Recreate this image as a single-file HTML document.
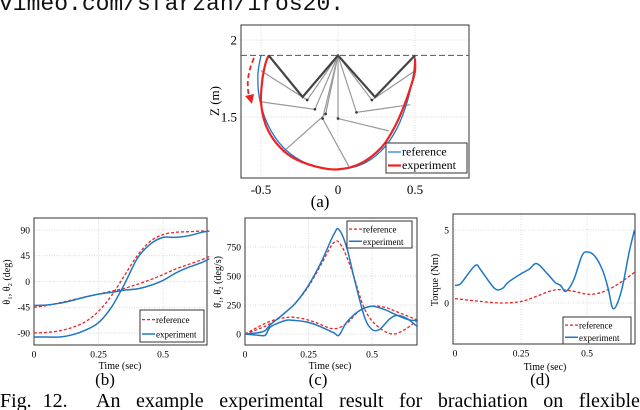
<!DOCTYPE html>
<html><head><meta charset="utf-8"><style>
html,body{margin:0;padding:0;background:#fff;}
svg{display:block;font-family:"Liberation Serif",serif;}
</style></head><body>
<svg id="fig" width="640" height="410" viewBox="0 0 640 410">
<text x="-1" y="10" font-family="Liberation Mono, monospace" font-size="23" fill="#111">vimeo.com/sfarzan/iros20.</text>
<g id="pa"></g>
<g id="pb"></g>
<g id="pc"></g>
<g id="pd"></g>
<text x="320" y="207" font-size="17" text-anchor="middle">(a)</text>
<text x="105" y="385" font-size="17" text-anchor="middle">(b)</text>
<text x="318" y="385" font-size="17" text-anchor="middle">(c)</text>
<text x="540" y="385" font-size="17" text-anchor="middle">(d)</text>
<text x="0" y="407" font-size="20" word-spacing="6">Fig. 12.</text>
<text x="96" y="407" font-size="20" word-spacing="10.5">An example experimental result for brachiation on flexible</text>
</svg>
<script>
// Panel (a) data
const aRefX=[-0.5,-0.52,-0.51,-0.46,-0.38,-0.28,-0.15,0,0.15,0.28,0.38,0.45,0.49,0.5];
const aRefY=[1.9,1.78,1.62,1.46,1.33,1.24,1.18,1.16,1.19,1.28,1.42,1.6,1.78,1.9];
const aExpX=[-0.45,-0.47,-0.49,-0.5,-0.47,-0.4,-0.3,-0.15,0,0.15,0.28,0.36,0.42,0.48,0.5,0.5];
const aExpY=[1.9,1.85,1.75,1.6,1.45,1.33,1.24,1.18,1.16,1.2,1.3,1.42,1.55,1.72,1.8,1.88];
const robotX=[-0.45,-0.23,0,0.24,0.5];
const robotY=[1.9,1.63,1.9,1.63,1.9];
const elbowX=[-0.2,-0.15,-0.08,-0.1,0,0.12,0.22];
const elbowY=[1.61,1.55,1.52,1.49,1.49,1.53,1.61];
const tipX=[-0.5,-0.51,-0.36,0.07,0.33,0.47,0.5];
const tipY=[1.8,1.6,1.27,1.18,1.41,1.58,1.8];
const aXTicks=[-0.5,0,0.5], aYTicks=[1.5,2];
// Panel (b)
const bT=[0,0.05,0.1,0.15,0.2,0.25,0.3,0.35,0.4,0.45,0.5,0.55,0.6,0.65,0.68];
const bRef1=[-90,-89,-86,-80,-70,-52,-25,10,45,70,82,86,87,88,88];
const bExp1=[-97,-97,-97,-93,-85,-72,-45,-5,40,65,77,77,80,86,88];
const bRef2=[-45,-42,-37,-32,-27,-22,-17,-12,-5,3,12,22,30,38,44];
const bExp2=[-42,-41,-38,-33,-27,-22,-19,-15,-13,-7,2,15,25,33,40];
const bYTicks=[-90,-45,0,45,90];
// Panel (c)
const cRef1T=[0,0.05,0.1,0.15,0.2,0.25,0.3,0.35,0.38,0.42,0.47,0.52,0.58,0.63,0.68];
const cRef1=[0,40,90,170,270,410,600,790,760,550,220,70,0,40,120];
const cExp1T=[0,0.05,0.08,0.1,0.15,0.2,0.25,0.3,0.35,0.37,0.4,0.43,0.47,0.5,0.53,0.57,0.6,0.64,0.68];
const cExp1=[0,10,30,80,170,270,420,620,860,900,750,480,150,40,40,130,160,130,60];
const cRef2T=[0,0.1,0.18,0.25,0.3,0.35,0.4,0.45,0.5,0.55,0.6,0.68];
const cRef2=[0,110,145,120,80,45,90,200,240,230,190,120];
const cExp2T=[0,0.05,0.08,0.1,0.15,0.18,0.25,0.3,0.35,0.37,0.4,0.45,0.5,0.55,0.6,0.65,0.68];
const cExp2=[0,-10,-10,60,110,120,100,60,10,-10,100,200,240,210,160,120,120];
const cYTicks=[0,250,500,750];
// Panel (d)
const dRefT=[0,0.1,0.18,0.25,0.3,0.38,0.45,0.5,0.55,0.6,0.65,0.68];
const dRef=[0.3,0.1,0,0.1,0.4,0.9,0.8,0.6,0.7,1.1,1.7,2.1];
const dExpT=[0,0.02,0.05,0.08,0.1,0.15,0.18,0.2,0.25,0.28,0.31,0.35,0.38,0.4,0.42,0.45,0.48,0.5,0.53,0.56,0.58,0.6,0.63,0.66,0.68];
const dExp=[1.2,1.3,2.0,2.6,2.2,1.0,1.0,1.4,2.0,2.3,2.7,2.0,1.4,1.2,0.8,1.6,3.2,3.5,3.2,2.2,1.0,-0.4,0.8,3.5,5.0];
const dYTicks=[0,5];
const tTicks=[0,0.25,0.5], tTickLabels=['0','0.25','0.5'];

const NS='http://www.w3.org/2000/svg';
function el(parent,tag,attrs,text){const e=document.createElementNS(NS,tag);for(const k in attrs)e.setAttribute(k,attrs[k]);if(text!==undefined)e.textContent=text;parent.appendChild(e);return e;}
function lin(d0,d1,r0,r1){return v=>r0+(v-d0)*(r1-r0)/(d1-d0);}
function pathD(xs,ys,sx,sy,smooth){
  const P=xs.map((x,i)=>[sx(x),sy(ys[i])]);
  if(!smooth)return P.map((p,i)=>(i?'L':'M')+p[0].toFixed(1)+','+p[1].toFixed(1)).join('');
  let d='M'+P[0][0].toFixed(1)+','+P[0][1].toFixed(1);
  for(let i=0;i<P.length-1;i++){
    const p0=P[Math.max(0,i-1)],p1=P[i],p2=P[i+1],p3=P[Math.min(P.length-1,i+2)];
    const c1=[p1[0]+(p2[0]-p0[0])/6,p1[1]+(p2[1]-p0[1])/6];
    const c2=[p2[0]-(p3[0]-p1[0])/6,p2[1]-(p3[1]-p1[1])/6];
    d+='C'+c1[0].toFixed(1)+','+c1[1].toFixed(1)+' '+c2[0].toFixed(1)+','+c2[1].toFixed(1)+' '+p2[0].toFixed(1)+','+p2[1].toFixed(1);
  }
  return d;
}
const BLUE='#1f77c4', RED='#ee2222';

function frame(g,L,T,R,B,sx,sy,xt,xl,yt,yl,fs){
  xt.forEach((v,i)=>{const x=sx(v);
    const gl=el(g,'line',{x1:x,x2:x,y1:T,y2:B,stroke:'#ccc','stroke-width':0.7,'stroke-dasharray':'1,1.5'});
    
    const t=el(g,'text',{x:x,y:B+fs+3,'font-size':fs,'text-anchor':'middle'},xl[i]);
    });
  yt.forEach((v,i)=>{const y=sy(v);
    const gl=el(g,'line',{x1:L,x2:R,y1:y,y2:y,stroke:'#ccc','stroke-width':0.7,'stroke-dasharray':'1,1.5'});
    
    const t=el(g,'text',{x:L-4,y:y+fs*0.35,'font-size':fs,'text-anchor':'end'},yl[i]);
    });
  const r=el(g,'rect',{x:L,y:T,width:R-L,height:B-T,fill:'none',stroke:'#333','stroke-width':1});
  
}
function series(g,xs,ys,sx,sy,color,w,dash,name){
  const p=el(g,'path',{d:pathD(xs,ys,sx,sy,true),fill:'none',stroke:color,'stroke-width':w,'stroke-linejoin':'round'});
  if(dash)p.setAttribute('stroke-dasharray',dash);
  
}
function legend(g,x,y,w,h,refFirst,fs,lw){
  const lg=el(g,'g',{});
  
  el(lg,'rect',{x:x,y:y,width:w,height:h,fill:'#fff',stroke:'#333','stroke-width':1});
  const items=refFirst?[['reference',RED,'3,2',1.3],['experiment',BLUE,null,1.5]]:[['reference',BLUE,null,1.2],['experiment',RED,null,lw]];
  items.forEach((it,i)=>{const yy=y+h*(0.3+0.45*i);
    const e=el(lg,'g',{});
    const l=el(e,'line',{x1:x+2,x2:x+15,y1:yy,y2:yy,stroke:it[1],'stroke-width':it[3]});if(it[2])l.setAttribute('stroke-dasharray',it[2]);
    el(e,'text',{x:x+16,y:yy+3.5,'font-size':fs},it[0]);});
}

// Panel a
(function(){const g=document.getElementById('pa');
  const L=241,R=469,T=25,B=178;
  const sx=lin(0,0.5,338,415), sy=lin(2,1.5,40,117);
  frame(g,L,T,R,B,sx,sy,aXTicks,['-0.5','0','0.5'],aYTicks,['1.5','2'],13);
  const yl=el(g,'text',{x:0,y:0,'font-size':13,'text-anchor':'middle',transform:'translate(219,101) rotate(-90)'},'Z (m)');
  
  const dl=el(g,'line',{x1:L,x2:R,y1:sy(1.9),y2:sy(1.9),stroke:'#555','stroke-width':1,'stroke-dasharray':'6,3'});
  
  elbowX.forEach((ex,i)=>{
    const l=el(g,'polyline',{points:sx(0)+','+sy(1.9)+' '+sx(ex)+','+sy(elbowY[i])+' '+sx(tipX[i])+','+sy(tipY[i]),fill:'none',stroke:'#999','stroke-width':1.2});
    
    const c=el(g,'circle',{cx:sx(ex),cy:sy(elbowY[i]),r:1.3,fill:'#333'});
    });
  series(g,aRefX,aRefY,sx,sy,BLUE,1.3,null,'reference-trajectory');
  series(g,aExpX,aExpY,sx,sy,RED,2.2,null,'experiment-trajectory');
  const rb=el(g,'path',{d:pathD(robotX,robotY,sx,sy,false),fill:'none',stroke:'#444','stroke-width':2.2});
  
  const ar=el(g,'path',{d:'M254,58 Q244,80 250,100',fill:'none',stroke:RED,'stroke-width':1.8,'stroke-dasharray':'5,3'});
  
  const ah=el(g,'path',{d:'M245,96 L252,104 L254,94 Z',fill:RED});
  
  legend(g,386,143,81,30,false,12,2.2);
})();
// Panel b
(function(){const g=document.getElementById('pb');
  const L=34,R=207,T=218,B=345;
  const sx=lin(0,0.5,34,163), sy=lin(90,-90,230,333);
  frame(g,L,T,R,B,sx,sy,tTicks,tTickLabels,bYTicks,bYTicks.map(String),9.5);
  const xl=el(g,'text',{x:120,y:369,'font-size':10,'text-anchor':'middle'},'Time (sec)');
  
  const yl=el(g,'text',{x:0,y:0,'font-size':10,'text-anchor':'middle',transform:'translate(10,282) rotate(-90)'},'θ₁, θ₂ (deg)');
  
  series(g,bT,bRef1,sx,sy,RED,1.3,'3,2','reference-theta1');
  series(g,bT,bRef2,sx,sy,RED,1.3,'3,2','reference-theta2');
  series(g,bT,bExp1,sx,sy,BLUE,1.5,null,'experiment-theta1');
  series(g,bT,bExp2,sx,sy,BLUE,1.5,null,'experiment-theta2');
  legend(g,140,310,64,32,true,9);
})();
// Panel c
(function(){const g=document.getElementById('pc');
  const L=245,R=417,T=218,B=345;
  const sx=lin(0,0.5,245,372), sy=lin(0,750,334,247);
  frame(g,L,T,R,B,sx,sy,tTicks,tTickLabels,cYTicks,cYTicks.map(String),9.5);
  const xl=el(g,'text',{x:330,y:369,'font-size':10,'text-anchor':'middle'},'Time (sec)');
  
  const yl=el(g,'text',{x:0,y:0,'font-size':10,'text-anchor':'middle',transform:'translate(221,282) rotate(-90)'},'θ̇₁, θ̇₂ (deg/s)');
  
  series(g,cRef1T,cRef1,sx,sy,RED,1.3,'3,2','reference-dtheta1');
  series(g,cRef2T,cRef2,sx,sy,RED,1.3,'3,2','reference-dtheta2');
  series(g,cExp1T,cExp1,sx,sy,BLUE,1.5,null,'experiment-dtheta1');
  series(g,cExp2T,cExp2,sx,sy,BLUE,1.5,null,'experiment-dtheta2');
  legend(g,347,221,65,27,true,9);
})();
// Panel d
(function(){const g=document.getElementById('pd');
  const L=453,R=635,T=214,B=344;
  const sx=lin(0,0.5,455,587), sy=lin(0,5,303,230);
  frame(g,L,T,R,B,sx,sy,tTicks,tTickLabels,dYTicks,dYTicks.map(String),9.5);
  const xl=el(g,'text',{x:545,y:370,'font-size':10,'text-anchor':'middle'},'Time (sec)');
  
  const yl=el(g,'text',{x:0,y:0,'font-size':10,'text-anchor':'middle',transform:'translate(438,280) rotate(-90)'},'Torque (Nm)');
  
  series(g,dRefT,dRef,sx,sy,RED,1.3,'3,2','reference-torque');
  series(g,dExpT,dExp,sx,sy,BLUE,1.5,null,'experiment-torque');
  legend(g,563,317,68,27,true,9);
})();
</script>
</body></html>
